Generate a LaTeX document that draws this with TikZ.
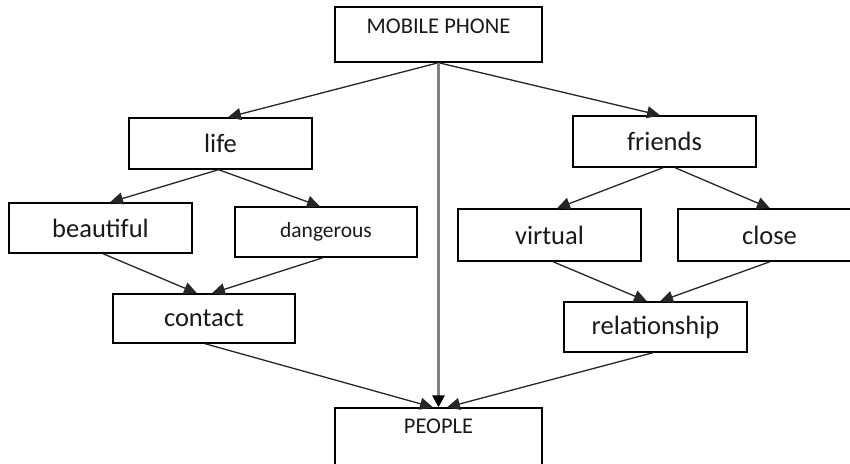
\documentclass[tikz,border=0pt]{standalone}
\usepackage{fontspec}
\setmainfont{Carlito}
\usetikzlibrary{arrows.meta}
\tikzset{
  box/.style={draw=black, line width=1.4pt, minimum width=183pt, minimum height=50pt, inner sep=0pt,
    font=\fontsize{26.5}{31}\selectfont, text=black!90},
  conn/.style={draw=black!85, line width=1.3pt, -{Triangle[length=13pt,width=12pt]}},
  mainconn/.style={draw=black!50, line width=2.8pt, -{Triangle[length=12pt,width=12pt,color=black]}},
  smalltxt/.style={font=\fontsize{22.5}{26}\selectfont, text=black!90},
}
\begin{document}
\begin{tikzpicture}[x=1pt,y=-1pt]
\useasboundingbox (0,0) rectangle (850,463);
\clip (0,0) rectangle (850,463);
\fill[white] (0,0) rectangle (850,463);
\node[box, minimum width=207pt, minimum height=55pt,
  label={[smalltxt, anchor=north, yshift=-9pt]north:MOBILE PHONE}] (mp) at (438.5,34.5) {};
\node[box, minimum height=51pt] (life) at (220.5,143.5) {life};
\node[box, minimum height=51pt] (friends) at (664.5,141.5) {friends};
\node[box] (beautiful) at (100.5,228) {beautiful};
\node[box, minimum width=182pt, font=\fontsize{21.5}{25}\selectfont] (dangerous) at (326,232) {dangerous};
\node[box, minimum height=52pt] (virtual) at (549.5,235) {virtual};
\node[box, minimum height=52pt] (close) at (769.5,235) {close};
\node[box, minimum width=182pt, minimum height=49pt] (contact) at (204,318.5) {contact};
\node[box] (relationship) at (655.5,327) {relationship};
\node[box, minimum width=207pt, minimum height=80pt,
  label={[smalltxt, anchor=north, yshift=-8pt]north:PEOPLE}] (people) at (438.5,448) {};

\draw[conn] (mp.south) -- ([xshift=7.5pt]life.north);
\draw[conn] (mp.south) -- ([xshift=-4.5pt]friends.north);
\draw[mainconn] (mp.south) -- (people.north);
\draw[conn] ([xshift=-2pt]life.south) -- ([xshift=9.5pt]beautiful.north);
\draw[conn] ([xshift=-2pt]life.south) -- ([xshift=-6pt]dangerous.north);
\draw[conn] ([xshift=2.5pt]beautiful.south) -- ([xshift=-7pt]contact.north);
\draw[conn] ([xshift=-3pt]dangerous.south) -- ([xshift=8pt]contact.north);
\draw[conn] ([xshift=-1.5pt]friends.south) -- ([xshift=7.5pt]virtual.north);
\draw[conn] ([xshift=10.5pt]friends.south) -- ([xshift=0.5pt]close.north);
\draw[conn] ([xshift=3.5pt]virtual.south) -- ([xshift=-8.5pt]relationship.north);
\draw[conn] ([xshift=0.5pt]close.south) -- ([xshift=4.5pt]relationship.north);
\draw[conn] ([xshift=1pt]contact.south) -- ([xshift=-5.5pt]people.north);
\draw[conn] ([xshift=-2.5pt]relationship.south) -- ([xshift=8.5pt]people.north);
\end{tikzpicture}
\end{document}
